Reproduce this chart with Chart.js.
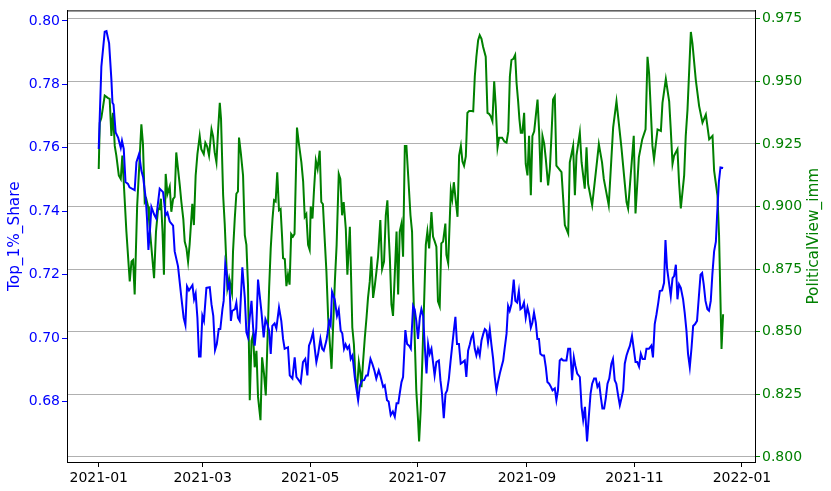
<!DOCTYPE html>
<html>
<head>
<meta charset="utf-8">
<script src="https://cdn.jsdelivr.net/npm/chart.js@4.4.1/dist/chart.umd.min.js"></script>
<style>
  html, body { margin: 0; padding: 0; background: #fff; }
  canvas { display: block; }
</style>
</head>
<body>
<canvas id="chart" width="831" height="491"></canvas>
<script>
// x values are days since 2021-01-01
var blueDays = [0,1.5,3.4,4.4,5.9,7.2,7.8,8.4,9.6,11,12.5,13.2,14.2,15.2,16.6,17.5,20.4,21.4,22.9,24.2,25.2,26.7,27.4,28.2,29.2,29.9,31.4,32.6,34.6,36.5,38,39,40.3,42.2,43.1,45,46.9,48.2,49.2,50.1,51.2,53.2,54.1,55,56,56.9,57.8,58.8,59.7,61.1,63,64,65,66,67,68.1,69,70.2,70.9,71.8,72.6,73.4,74.2,75,75.7,77.3,78.1,79,80,81.5,82.9,83.8,84.7,85.6,86.7,87.6,88.5,89.4,90.4,92.3,93.6,94.6,95.6,96.7,97.6,98.5,99.8,100.8,102.3,103.6,104.6,105.5,107.4,108.4,109.9,111.2,112.2,113.5,114.6,115.9,117.2,118.4,119.3,120.3,121.6,122.6,123.5,124.5,125.8,126.8,127.7,129.2,129.8,130.7,131.6,132.4,133.9,135.2,136.2,137.3,138.2,139.2,140.1,141.1,142.1,143,144,145.3,146.2,147.2,148.1,149.3,150.6,151.8,152.7,154.2,155.3,156.4,157.5,158.9,159.8,161.4,162.3,163.6,164.5,165.7,166.9,168,169,170,170.8,171.8,172.7,174,175,176.1,177.1,178.4,179.3,180.2,181.2,182.2,183.1,184.1,185,186,186.9,187.8,188.8,189.7,190.6,191.6,193,193.9,194.8,195.8,196.8,197.7,198.7,199.6,200.5,201.5,202.4,203.3,204.4,205.4,206.6,207.7,208.6,209.6,210.6,211.5,212.4,213.4,214.3,215.2,216.2,217.2,218.2,219.1,220,220.9,221.9,222.8,223.8,224.7,225.7,226.6,227.6,228.5,229.5,230.4,231.4,232.3,233.2,234.2,235.5,236.4,237.4,238.4,239.3,240.3,241.3,242.3,243.3,244.2,245.2,246.1,247,248,248.9,249.8,250.6,251.7,252.7,253.7,254.6,255.6,256.6,257.5,258.8,259.7,260.6,261.6,262.6,263.6,265.4,266.4,267.5,268.6,269.6,270.5,271.5,273,274,274.9,275.9,277.1,278.1,279.1,280,281.1,282.1,283,284,284.9,285.8,286.8,287.7,288.7,289.7,290.9,291.8,292.8,293.7,294.7,295.7,296.6,297.6,298.5,299.5,300.4,301.4,302.6,303.6,304.6,305.6,306.6,307.6,308.6,309.9,310.8,312.2,313.6,314.5,315.5,316.5,317.5,318.4,319.7,320.8,321.6,322.5,323.6,324.6,325.6,326.5,327.5,328.4,329.3,330.3,331.6,332.5,333.5,334.4,335.4,336.4,337.3,338.4,339.5,340.5,341.5,342.4,343.3,344.3,345.4,346.3,347.3,348.2,349.2,350.2,350.9,351.9,352.8,354.3];
var blueValues = [0.7596,0.7856,0.7966,0.7968,0.7929,0.7814,0.7742,0.7736,0.7648,0.7632,0.760,0.7622,0.7596,0.7492,0.7486,0.7475,0.7466,0.7554,0.758,0.7528,0.7507,0.7439,0.7377,0.7278,0.735,0.7413,0.7390,0.7377,0.7471,0.746,0.7387,0.7395,0.7367,0.7354,0.7273,0.7226,0.7127,0.7064,0.7041,0.7163,0.715,0.7167,0.7122,0.714,0.7064,0.6942,0.6942,0.707,0.7054,0.7158,0.716,0.7106,0.707,0.6962,0.6981,0.7028,0.7028,0.7091,0.7117,0.7233,0.7205,0.7158,0.7170,0.7054,0.7085,0.7091,0.7111,0.7064,0.7054,0.7223,0.7127,0.7018,0.7002,0.706,0.7117,0.7033,0.6976,0.703,0.7184,0.7085,0.7002,0.7059,0.7045,0.7023,0.695,0.7038,0.7046,0.703,0.7096,0.7054,0.6997,0.6966,0.6971,0.6882,0.6872,0.6939,0.6877,0.6867,0.6858,0.6924,0.6934,0.6882,0.6976,0.699,0.7018,0.6966,0.6924,0.695,0.6997,0.6966,0.6960,0.6992,0.7013,0.7054,0.704,0.7146,0.7122,0.707,0.709,0.7023,0.7015,0.6966,0.6980,0.6966,0.6975,0.6934,0.6945,0.6877,0.6841,0.6804,0.6846,0.6866,0.6867,0.6882,0.6882,0.6934,0.6918,0.6898,0.6872,0.6898,0.6882,0.6846,0.6851,0.6804,0.6800,0.6757,0.6768,0.6752,0.6794,0.6794,0.6825,0.6861,0.6877,0.7025,0.6981,0.6976,0.6966,0.7101,0.7090,0.7054,0.6997,0.7064,0.7091,0.7070,0.6976,0.6888,0.6981,0.695,0.6966,0.6924,0.6882,0.6924,0.6929,0.6867,0.6825,0.6747,0.6825,0.6835,0.6872,0.6924,0.6971,0.7023,0.7067,0.6981,0.6981,0.6919,0.6924,0.6929,0.6877,0.696,0.698,0.7002,0.7013,0.6966,0.6945,0.6966,0.6945,0.6992,0.7013,0.7028,0.7023,0.6986,0.7028,0.6981,0.6934,0.6877,0.6835,0.6862,0.6888,0.6908,0.6929,0.697,0.7013,0.7101,0.7086,0.7107,0.7184,0.7117,0.7112,0.7148,0.7091,0.7096,0.7112,0.7064,0.7096,0.7075,0.7033,0.7049,0.708,0.7049,0.6997,0.6997,0.695,0.6945,0.6945,0.6908,0.6861,0.6856,0.6846,0.6835,0.6841,0.6804,0.6835,0.6929,0.6934,0.6929,0.6929,0.6966,0.6966,0.6867,0.6939,0.6912,0.6888,0.6877,0.6783,0.6742,0.6783,0.6674,0.6752,0.6825,0.6856,0.6872,0.6872,0.6846,0.6856,0.6814,0.6778,0.6778,0.6809,0.6856,0.6872,0.6919,0.6934,0.6867,0.6856,0.682,0.6788,0.6809,0.6835,0.6919,0.6945,0.696,0.6975,0.7007,0.6966,0.6924,0.6924,0.691,0.695,0.6934,0.6934,0.6966,0.6966,0.6976,0.6939,0.7044,0.7075,0.7111,0.7148,0.715,0.7174,0.7309,0.722,0.7174,0.7132,0.7189,0.7195,0.7231,0.7122,0.7169,0.7158,0.7122,0.708,0.7023,0.695,0.6908,0.697,0.7038,0.7044,0.7054,0.7127,0.72,0.7205,0.7169,0.7117,0.7091,0.7086,0.7117,0.72,0.7273,0.7304,0.7388,0.7492,0.7538,0.7536];

var greenDays = [0,0.6,1.5,3.4,5.3,6.2,7.2,8.1,9.1,10,11.4,12.5,13.4,14.4,15.7,17.6,18.6,19.5,20.4,21.8,23.3,24.2,25.1,26.1,27,28,28.5,31.4,32.5,33.7,34.5,35.3,36.2,37,38,39,40.3,41.2,42.2,43.1,44,45,46,46.9,48,48.8,49.8,50.7,51.6,53.1,54,55,56,57.3,58.2,59.6,60.5,61.5,62.6,64,64.9,65.8,66.8,67.7,68.7,69.4,70.6,71.5,73,74,75.6,76.2,77.2,78.1,79,79.6,80.6,81.9,82.9,83.8,84.7,85.7,86.7,87.6,88.5,89.5,90.4,91.8,92.7,93.8,94.8,95.7,96.7,97.6,98.6,99.5,100.4,101.3,102.3,103.2,104,104.6,105.6,106.5,107.4,108.3,109.2,110.2,111.1,112.5,113.5,115,116,116.9,117.8,118.8,119.7,120.3,121.3,122.2,123.2,124.2,125.4,126.3,127.2,128.3,129.2,130.2,132.1,133,134,135,136.2,137.1,138.1,139,140.2,141.1,142.5,143.9,144.8,145.7,146.6,147.6,148.4,149.1,150,151,152,152.8,153.8,154.7,155.7,156.6,157.6,158.5,159.8,160.8,161.9,162.9,163.8,164.6,165.2,166.1,167,168,169,169.9,170.8,171.8,172.7,173.7,174.6,175.6,176.9,177.8,178.4,179.3,180.2,181.2,181.8,182.7,183.7,184.6,185.6,186.5,187.5,188.8,189.7,190.7,191.6,192.5,193.5,194.4,195.4,196.7,197.3,198.3,199.8,200.6,201.5,202.5,203.6,204.5,205.5,206.4,207.3,208.3,209.2,210.2,211.5,212.5,213.4,214.3,215.3,216.2,217.2,218.1,219.6,220.6,221.5,222.5,223.4,224.4,225.3,226.3,227.2,228.9,230.2,231.4,232.4,233.3,234.2,235.3,236.3,237.1,238,238.7,239.5,240.4,241.4,242.3,243.3,244.2,245.2,246.1,247.1,248,249,249.9,250.9,251.8,252.8,253.7,255,256,256.9,257.8,258.8,259.7,262.6,264.5,266.4,267.3,269.2,270.2,271.1,273,274,275.8,276.8,277.7,280,282.8,283.8,285.6,286.6,289.4,291.9,293.8,296.6,299.5,300.4,303.6,304.6,306.5,308.4,310.3,311.4,312.3,314.2,315.1,317.1,319,319.9,321.8,323.7,324.6,325.6,326.5,328.4,329.3,330.3,332.2,333.1,334.1,336,336.9,338.8,340.7,342.6,344.5,346.4,348.3,349.2,351.1,352,353.4,354.3];
var greenValues = [0.915,0.9335,0.9354,0.9443,0.9433,0.943,0.9282,0.9374,0.9242,0.9203,0.9124,0.911,0.9203,0.9071,0.89,0.8701,0.8781,0.8787,0.8649,0.9,0.9203,0.9328,0.925,0.9018,0.903,0.900,0.895,0.8714,0.89,0.8992,0.899,0.9031,0.89,0.8728,0.913,0.905,0.908,0.8979,0.903,0.9038,0.9216,0.915,0.9084,0.9018,0.895,0.886,0.8833,0.878,0.885,0.9011,0.8926,0.9124,0.9209,0.9282,0.9229,0.9209,0.9255,0.924,0.9203,0.9308,0.928,0.9216,0.9176,0.93,0.9414,0.935,0.9045,0.893,0.8675,0.8714,0.8655,0.882,0.8952,0.9051,0.906,0.9275,0.9216,0.9124,0.8886,0.8847,0.8688,0.8227,0.8464,0.849,0.8358,0.8424,0.824,0.8147,0.8398,0.8332,0.8246,0.845,0.8675,0.8833,0.895,0.9025,0.902,0.9137,0.8985,0.899,0.8886,0.8794,0.879,0.8682,0.8728,0.8688,0.889,0.888,0.889,0.9315,0.9255,0.9176,0.91,0.8959,0.897,0.8847,0.8827,0.9,0.8952,0.9071,0.9183,0.915,0.9223,0.9018,0.901,0.886,0.8741,0.8556,0.8352,0.852,0.8701,0.8847,0.913,0.911,0.8965,0.9018,0.8912,0.8728,0.8919,0.8517,0.845,0.8312,0.8273,0.8378,0.834,0.8279,0.838,0.8477,0.856,0.8635,0.870,0.88,0.8635,0.868,0.8741,0.88,0.8946,0.875,0.878,0.8965,0.9025,0.888,0.8794,0.8609,0.8563,0.873,0.89,0.8649,0.89,0.8932,0.88,0.9242,0.9242,0.9124,0.8965,0.89,0.8701,0.8477,0.8266,0.8147,0.8062,0.8187,0.84,0.8609,0.8847,0.89,0.8833,0.8978,0.888,0.886,0.884,0.8622,0.8602,0.8853,0.886,0.8932,0.8807,0.8774,0.9064,0.903,0.9097,0.903,0.8959,0.9203,0.9242,0.918,0.9163,0.92,0.9374,0.9381,0.9381,0.938,0.9519,0.9598,0.9664,0.9684,0.967,0.9638,0.9598,0.9374,0.937,0.936,0.9341,0.95,0.94,0.9236,0.9275,0.9275,0.926,0.9255,0.93,0.9519,0.9585,0.959,0.9605,0.9493,0.942,0.935,0.9295,0.9295,0.9374,0.917,0.9124,0.9282,0.9045,0.9282,0.93,0.9361,0.9427,0.93,0.9097,0.9282,0.925,0.9189,0.9084,0.915,0.9282,0.9427,0.944,0.9163,0.9137,0.8926,0.8892,0.9176,0.9242,0.9045,0.9203,0.9295,0.9176,0.9071,0.9236,0.909,0.9005,0.9183,0.9249,0.9176,0.911,0.9005,0.9315,0.942,0.9236,0.9018,0.8992,0.9282,0.8972,0.9196,0.9268,0.9308,0.9598,0.9532,0.9242,0.9189,0.9308,0.9302,0.9414,0.9509,0.942,0.9308,0.917,0.9203,0.9229,0.9097,0.8992,0.9124,0.9282,0.9387,0.9697,0.9651,0.9506,0.9401,0.9335,0.9367,0.9268,0.9282,0.9143,0.9045,0.8886,0.8431,0.857];

var xTickDays = [0, 59, 120, 181, 243, 304, 365];
var xTickLabels = ['2021-01', '2021-03', '2021-05', '2021-07', '2021-09', '2021-11', '2022-01'];
var leftTicks = [0.68, 0.70, 0.72, 0.74, 0.76, 0.78, 0.80];
var rightTicks = [0.800, 0.825, 0.850, 0.875, 0.900, 0.925, 0.950, 0.975];
var rightTitle = 'PoliticalView_imm';

function toPoints(days, values) {
  return days.map(function(d, i) { return { x: d, y: values[i] }; });
}

Chart.defaults.font.family = '"DejaVu Sans", sans-serif';

// top spine, and the right axis title which matplotlib writes bottom-to-top
var frame = {
  id: 'frame',
  afterDraw: function(chart) {
    var a = chart.chartArea, c = chart.ctx;
    c.save();
    c.strokeStyle = '#000';
    c.lineWidth = 1;
    c.beginPath();
    c.moveTo(a.left, a.top + 0.5);
    c.lineTo(a.right, a.top + 0.5);
    c.stroke();
    c.translate(814, (a.top + a.bottom) / 2);
    c.rotate(-Math.PI / 2);
    c.fillStyle = '#008000';
    c.font = '15.3px "DejaVu Sans", sans-serif';
    c.textAlign = 'center';
    c.textBaseline = 'middle';
    c.fillText(rightTitle, 0, 0);
    c.restore();
  }
};

var ctx = document.getElementById('chart').getContext('2d');
var chart = new Chart(ctx, {
  type: 'line',
  data: {
    datasets: [
      {
        label: 'Top_1%_Share',
        data: toPoints(blueDays, blueValues),
        yAxisID: 'y',
        borderColor: '#0000ff',
        borderWidth: 2,
        pointRadius: 0,
        tension: 0,
        fill: false
      },
      {
        label: rightTitle,
        data: toPoints(greenDays, greenValues),
        yAxisID: 'y1',
        borderColor: '#008000',
        borderWidth: 2,
        pointRadius: 0,
        tension: 0,
        fill: false
      }
    ]
  },
  options: {
    responsive: false,
    animation: false,
    devicePixelRatio: 1,
    layout: { padding: { top: 7, left: 0, right: 0, bottom: 0 } },
    plugins: { legend: { display: false }, tooltip: { enabled: false } },
    scales: {
      x: {
        type: 'linear',
        min: -18,
        max: 372.4,
        afterBuildTicks: function(s) { s.ticks = xTickDays.map(function(v) { return { value: v }; }); },
        afterFit: function(s) { s.height = 29; },
        ticks: {
          autoSkip: false,
          maxRotation: 0,
          color: '#000',
          padding: 3,
          font: { size: 14 },
          callback: function(v) { return xTickLabels[xTickDays.indexOf(v)]; }
        },
        grid: { drawOnChartArea: false, tickLength: 5, tickColor: '#000' },
        border: { color: '#000', width: 1 }
      },
      y: {
        position: 'left',
        min: 0.6609,
        max: 0.8033,
        afterBuildTicks: function(s) { s.ticks = leftTicks.map(function(v) { return { value: v }; }); },
        afterFit: function(s) { s.width = 67; },
        ticks: {
          color: '#0000ff',
          padding: 2,
          font: { size: 14 },
          callback: function(v) { return v.toFixed(2); }
        },
        grid: { drawOnChartArea: false, tickLength: 5, tickColor: '#0000ff' },
        border: { color: '#000', width: 1 },
        title: { display: true, text: 'Top_1%_Share', color: '#0000ff', font: { size: 15.3 }, padding: { top: 6, bottom: 2 } }
      },
      y1: {
        position: 'right',
        min: 0.798,
        max: 0.9783,
        afterBuildTicks: function(s) { s.ticks = rightTicks.map(function(v) { return { value: v }; }); },
        afterFit: function(s) { s.width = 76; },
        ticks: {
          color: '#008000',
          padding: 2,
          font: { size: 14 },
          callback: function(v) { return v.toFixed(3); }
        },
        grid: { drawOnChartArea: true, color: '#b0b0b0', lineWidth: 1, tickLength: 5, tickColor: '#008000' },
        border: { color: '#000', width: 1 }
      }
    }
  },
  plugins: [frame]
});
</script>
</body>
</html>
